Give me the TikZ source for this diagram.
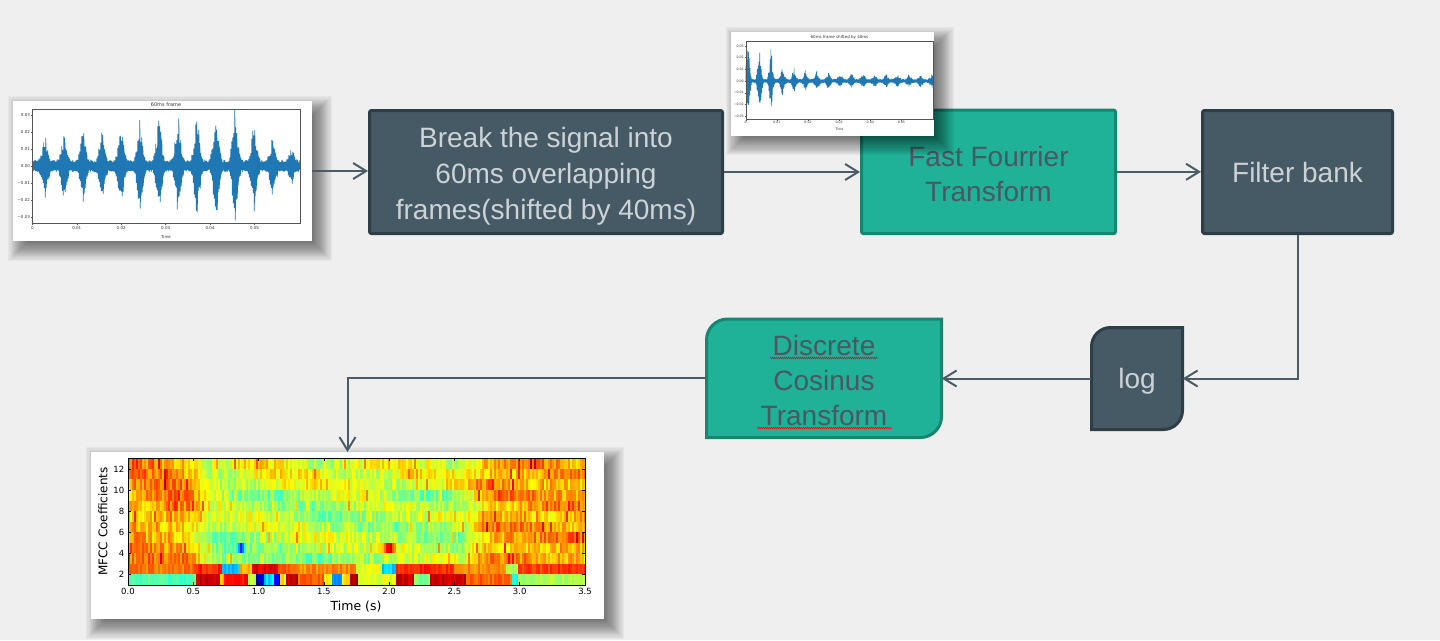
\documentclass[tikz,border=0pt]{standalone}
\usepackage{fontspec}
\setmainfont{Liberation Sans}
\newfontfamily\plotfont{DejaVu Sans}
\usetikzlibrary{arrows.meta,decorations.pathmorphing}
\definecolor{bg}{HTML}{EFEFEF}
\definecolor{dk}{HTML}{455A64}
\definecolor{dkb}{HTML}{2E3E46}
\definecolor{dktext}{HTML}{CDD2D6}
\definecolor{tl}{HTML}{20B298}
\definecolor{tlb}{HTML}{178670}
\definecolor{tltext}{HTML}{4A5862}
\definecolor{cn}{HTML}{4A5C66}
\definecolor{wave}{HTML}{1F77B4}
\definecolor{axis}{HTML}{555555}
\definecolor{tick}{HTML}{333333}

\newcommand\softshadow[4]{%
  \foreach \k in {0,...,17}{%
    \fill[black,opacity=0.034] ({#1+14-1.1*\k},{#2+14-1.1*\k}) rectangle ({#3+1+1.1*\k},{#4+1+1.1*\k});%
  }%
}
\newcommand\tlbrshape[6]{%
  \path[#6] (#1,{#2+#5}) .. controls (#1,{#2+0.45*#5}) and ({#1+0.45*#5},#2) .. ({#1+#5},#2)
    -- (#3,#2) -- (#3,{#4-#5}) .. controls (#3,{#4-0.45*#5}) and ({#3-0.45*#5},#4) .. ({#3-#5},#4)
    -- (#1,#4) -- cycle;%
}
\newcommand\jetcell[3]{%
  \pgfmathsetmacro\jv{max(0,min(1,#3))}%
  \pgfmathsetmacro\jr{min(1,max(0,1.5-abs(4*\jv-3)))}%
  \pgfmathsetmacro\jg{min(1,max(0,1.5-abs(4*\jv-2)))}%
  \pgfmathsetmacro\jb{min(1,max(0,1.5-abs(4*\jv-1)))}%
  \definecolor{jc}{rgb}{\jr,\jg,\jb}%
  \fill[jc] ({128+2*#1},{585-(#2+1)*10.5583}) rectangle ({130.1+2*#1},{585.05-#2*10.5583});%
}

\begin{document}
\begin{tikzpicture}[x=1pt,y=-1pt,
  declare function={
    triA(\x)=max(0,1-abs(mod(\x+2.5,19)-9.5)/6.5);
    triB(\x)=max(0,1-abs(mod(\x-730.75,11.5)-5.75)/4.2);
    envA(\x)=6+1.15*min(min(24+(\x-45)*0.16,51-(\x-235)*0.7),50)*triA(\x)*(0.35+0.65*triA(\x));
    envB(\x)=2+1.1*(4.5+8*exp(-(\x-785)/45)+13*min(1,max(0,(781-\x)/4)))*triB(\x)*(0.35+0.65*triB(\x));
  },
  dkbox/.style={rectangle, rounded corners=2pt, fill=dk, draw=dkb, line width=3pt, inner sep=0pt},
  tlbox/.style={rectangle, rounded corners=2pt, fill=tl, draw=tlb, line width=3pt, inner sep=0pt},
  dktxt/.style={inner sep=0pt, align=center, text=dktext, font=\fontsize{28}{36}\selectfont},
  tltxt/.style={inner sep=0pt, align=center, text=tltext, font=\fontsize{28}{35}\selectfont},
  conn/.style={draw=cn, line width=2pt, -{Straight Barb[length=13pt,width=16pt]}},
  imgframe/.style={rectangle, fill=white, inner sep=0pt, outer sep=0pt},
  ax/.style={draw=axis, line width=0.5pt},
  tkA/.style={font=\plotfont\fontsize{4}{4}\selectfont, text=tick, inner sep=0.4pt},
  tkB/.style={font=\plotfont\fontsize{3.2}{3.2}\selectfont, text=tick, inner sep=0.3pt},
  tkC/.style={font=\plotfont\fontsize{8.5}{8.5}\selectfont, text=black, inner sep=0.5pt},
  wline/.style={draw=wave, line join=round},
  spell/.style={draw=red, line width=0.5pt, decorate, decoration={snake, amplitude=0.8pt, segment length=2pt}}
]
\useasboundingbox (0,0) rectangle (1440,640);
\fill[bg] (0,0) rectangle (1440,640);

% ---------- image 1 : 60ms frame ----------
\softshadow{13}{101}{312}{241}
\node[imgframe, minimum width=299pt, minimum height=140pt] (img1) at (162.5,171) {};
\begin{scope}
  \clip (32.3,109) rectangle (300,223.3);
  \pgfmathsetseed{3}
  \draw[wline, line width=0.8pt] (32.3,166) \foreach \i in {1,...,536}{ -- ({32.3+0.5*\i},{166+(1-2*mod(\i,2))*envA(32.3+0.5*\i)*(0.55+0.45*rnd)}) };
\end{scope}
\draw[ax] (32.3,109) rectangle (300,223.3);
\node[tkA, font=\plotfont\fontsize{5}{5}\selectfont] (t1) at (166,104.5) {60ms frame};
\foreach \k/\l in {3/0.03,2/0.02,1/0.01,0/0.00,-1/−0.01,-2/−0.02,-3/−0.03}{
  \draw[ax] (30.8,{166-17*\k}) -- (32.3,{166-17*\k});
  \node[tkA, anchor=east] (ya\k) at (30.5,{166-17*\k}) {\l};
}
\foreach \k/\l in {0/0,1/0.01,2/0.02,3/0.03,4/0.04,5/0.05}{
  \draw[ax] ({32.3+44.45*\k},223.3) -- ({32.3+44.45*\k},224.8);
  \node[tkA, anchor=north] (xa\k) at ({32.3+44.45*\k},225.5) {\l};
}
\node[tkA] (time1) at (166,237) {Time};

% ---------- process boxes ----------
\node[dkbox, minimum width=353pt, minimum height=123pt] (brk) at (546,172) {};
\node[dktxt] (brkT) at (546,176) {Break the signal into\\60ms overlapping\\frames(shifted by 40ms)};
\node[tlbox, minimum width=254pt, minimum height=123.5pt] (fft) at (988.5,171.8) {};
\node[tltxt] (fftT) at (988.5,174) {Fast Fourrier\\Transform};
\node[dkbox, minimum width=190pt, minimum height=123pt] (fb) at (1297.5,172) {};
\node[dktxt] (fbT) at (1297.5,172.5) {Filter bank};

% ---------- image 2 : shifted frame ----------
\softshadow{730.5}{32}{934}{135.5}
\node[imgframe, minimum width=203.5pt, minimum height=103.5pt] (img2) at (832.25,83.75) {};
\begin{scope}
  \clip (745.7,40.7) rectangle (933.3,119.3);
  \pgfmathsetseed{11}
  \draw[wline, line width=0.6pt] (745.7,81) \foreach \i in {1,...,469}{ -- ({745.7+0.4*\i},{81+(1-2*mod(\i,2))*envB(745.7+0.4*\i)*(0.5+0.5*rnd)}) };
\end{scope}
\draw[ax, line width=0.4pt] (745.7,40.7) rectangle (933.3,119.3);
\node[tkB, font=\plotfont\fontsize{4}{4}\selectfont] (t2) at (839.5,37.6) {60ms frame shifted by 40ms};
\foreach \k/\l in {3/0.03,2/0.02,1/0.01,0/0.00,-1/−0.01,-2/−0.02,-3/−0.03}{
  \draw[ax, line width=0.4pt] (744.5,{81-11.7*\k}) -- (745.7,{81-11.7*\k});
  \node[tkB, anchor=east] (yb\k) at (744.2,{81-11.7*\k}) {\l};
}
\foreach \k/\l in {0/0,1/0.01,2/0.02,3/0.03,4/0.04,5/0.05}{
  \draw[ax, line width=0.4pt] ({745.7+31.15*\k},119.3) -- ({745.7+31.15*\k},120.5);
  \node[tkB, anchor=north] (xb\k) at ({745.7+31.15*\k},121) {\l};
}
\node[tkB] (time2) at (839.5,129.8) {Time};

% ---------- log and DCT ----------
\tlbrshape{1091.5}{327.5}{1182.5}{429.5}{19}{fill=dk, draw=dkb, line width=3pt}
\node[rectangle, inner sep=0pt, minimum width=91pt, minimum height=102pt] (log) at (1137,378.5) {};
\node[dktxt] (logT) at (1137,381) {log};
\tlbrshape{706.5}{319}{941.5}{437.5}{21}{fill=tl, draw=tlb, line width=3pt}
\node[rectangle, inner sep=0pt, minimum width=235pt, minimum height=118.5pt] (dct) at (824,378.2) {};
\node[tltxt] (dctT) at (824,380.5) {Discrete\\Cosinus\\Transform};
\draw[spell] (770,358) -- (878,358);
\draw[spell] (757,428) -- (892,428);

% ---------- MFCC image ----------
\softshadow{91}{452}{604}{619}
\node[imgframe, minimum width=513pt, minimum height=167pt] (mfcc) at (347.5,535.5) {};
\begin{scope}
  \clip (128,458.3) rectangle (585,585);
  \pgfmathsetseed{5}
  \foreach \r in {2,...,11}{
    \foreach \c in {0,...,228}{
      \pgfmathsetmacro\t{\c*3.5/228}
      \pgfmathsetmacro\md{min(1,max(0,(\t-0.45)*5))*min(1,max(0,(2.75-\t)*5))}
      \pgfmathsetmacro\w{\r<9 ? 1 : 0.5}
      \pgfmathsetmacro\sp{rnd>0.95 ? 0.12 : 0}
      \jetcell{\c}{\r}{0.665-0.12*\md*\w+0.05*(1-\md)+0.05*sin(\t*(97+23*\r)+41*\r)+0.14*(rnd-0.5)+\sp+(\r==3)*0.33*max(0,1-abs(\t-2.0)/0.07)-(\r==3)*0.35*max(0,1-abs(\t-0.86)/0.05)}
    }
  }
  \foreach \ta/\tb/\vv in {0/0.5/0.76,0.5/0.72/0.84,0.72/0.86/0.3,0.86/0.95/0.7,0.95/1.15/0.9,1.15/1.3/0.8,1.3/1.75/0.74,1.75/1.95/0.6,1.95/2.05/0.33,2.05/2.5/0.84,2.5/2.9/0.74,2.9/3.0/0.55,3.0/3.5/0.82}{
    \pgfmathtruncatemacro\ca{round(\ta*228/3.5)}
    \pgfmathtruncatemacro\cb{round(\tb*228/3.5)}
    \foreach \c in {\ca,...,\cb}{ \jetcell{\c}{1}{\vv+0.08*(rnd-0.5)} }
  }
  \foreach \ta/\tb/\vv in {0/0.52/0.45,0.52/0.7/0.93,0.7/0.73/0.68,0.73/0.92/0.86,0.92/0.98/0.55,0.98/1.05/0.07,1.05/1.12/0.34,1.12/1.17/0.12,1.17/1.22/0.65,1.22/1.3/0.93,1.3/1.5/0.78,1.5/1.57/0.62,1.57/1.65/0.27,1.65/1.7/0.64,1.7/1.77/0.98,1.77/2.05/0.6,2.05/2.2/0.92,2.2/2.32/0.5,2.32/2.6/0.93,2.6/2.95/0.78,2.95/3.0/0.4,3.0/3.5/0.55}{
    \pgfmathtruncatemacro\ca{round(\ta*228/3.5)}
    \pgfmathtruncatemacro\cb{round(\tb*228/3.5)}
    \foreach \c in {\ca,...,\cb}{ \jetcell{\c}{0}{\vv+0.08*(rnd-0.5)} }
  }
\end{scope}
\draw[black, line width=0.8pt] (128,458.3) rectangle (585,585);
\foreach \k in {2,4,...,12}{
  \draw[black, line width=0.6pt] (128,{585-(\k-1)*10.5583}) -- (131,{585-(\k-1)*10.5583});
  \draw[black, line width=0.6pt] (582,{585-(\k-1)*10.5583}) -- (585,{585-(\k-1)*10.5583});
  \node[tkC, anchor=east] (yc\k) at (125,{585-(\k-1)*10.5583}) {\k};
}
\foreach \k/\l in {0/0.0,1/0.5,2/1.0,3/1.5,4/2.0,5/2.5,6/3.0,7/3.5}{
  \draw[black, line width=0.6pt] ({128+65.286*\k},585) -- ({128+65.286*\k},582);
  \draw[black, line width=0.6pt] ({128+65.286*\k},458.3) -- ({128+65.286*\k},461.3);
  \node[tkC, anchor=north] (xc\k) at ({128+65.286*\k},587.5) {\l};
}
\node[font=\plotfont\fontsize{12.5}{12.5}\selectfont, inner sep=0pt] (time3) at (356,606.5) {Time (s)};
\node[font=\plotfont\fontsize{12}{12}\selectfont, inner sep=0pt, rotate=90] (ylab) at (103,521.5) {MFCC Coefficients};

% ---------- connectors ----------
\draw[conn] (img1.east) -- (img1.east -| brk.west);
\draw[conn] (brk.east) -- (brk.east -| fft.west);
\draw[conn] (fft.east) -- (fft.east -| fb.west);
\draw[conn] (fb.south) |- (log.east);
\draw[conn] (log.west) -- (log.west -| dct.east);
\draw[conn] (dct.west) -| (mfcc.north);
\end{tikzpicture}
\end{document}
